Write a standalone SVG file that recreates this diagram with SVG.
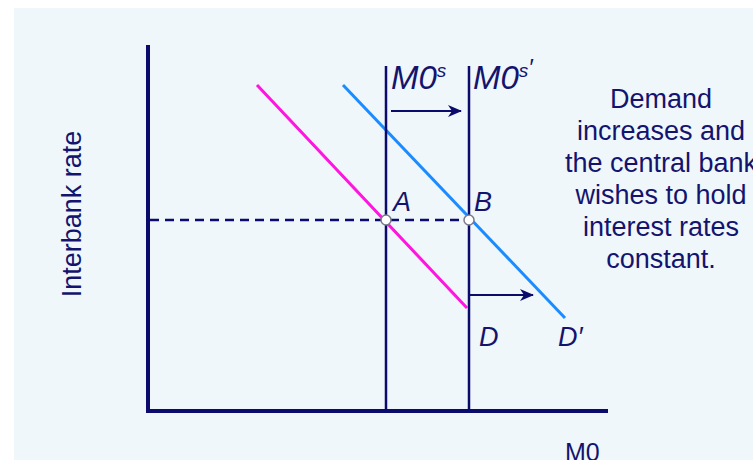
<svg xmlns="http://www.w3.org/2000/svg" width="753" height="460" viewBox="0 0 753 460">
<style>
.ax{stroke:#0b0b6b;stroke-width:4;fill:none}
.t{font-family:"Liberation Sans",Arial,sans-serif;fill:#14146e}
.it{font-style:italic;font-size:27px}
.big{font-style:italic;font-size:33px}
.body{font-size:27px;text-anchor:middle}
.pt{fill:#ffffff;stroke:#7a7a8a;stroke-width:1.5}
</style>
<defs>
<marker id="ah" viewBox="0 0 14 12" refX="13" refY="6" markerWidth="14" markerHeight="12" markerUnits="userSpaceOnUse" orient="auto">
<path d="M0,0 L14,6 L0,12 L4,6 Z" fill="#0b0b6b"/>
</marker>
</defs>
<rect x="0" y="0" width="753" height="460" fill="#ffffff"/>
<rect x="14" y="8" width="739" height="452" fill="#eff7fa"/>
<g id="connectors">
<line class="ax" x1="148" y1="45" x2="148" y2="413"/>
<line class="ax" x1="146" y1="411" x2="608" y2="411"/>
<line x1="150" y1="220" x2="469" y2="220" stroke="#0b0b6b" stroke-width="2.5" stroke-dasharray="9,6"/>
<line x1="257" y1="85" x2="467" y2="308" stroke="#ff14e0" stroke-width="3"/>
<line x1="343" y1="85" x2="565" y2="318" stroke="#1a8cff" stroke-width="3"/>
<line x1="386" y1="66" x2="386" y2="411" stroke="#0b0b6b" stroke-width="2.5"/>
<line x1="469" y1="66" x2="469" y2="411" stroke="#0b0b6b" stroke-width="2.5"/>
<line x1="391" y1="111" x2="461" y2="111" stroke="#0b0b6b" stroke-width="2" marker-end="url(#ah)"/>
<line x1="470" y1="295" x2="533" y2="295" stroke="#0b0b6b" stroke-width="2" marker-end="url(#ah)"/>
</g>
<g id="pointA"><circle class="pt" cx="386" cy="220" r="5"/><text class="t it" x="393" y="211">A</text></g>
<g id="pointB"><circle class="pt" cx="469" cy="220" r="5"/><text class="t it" x="474" y="211">B</text></g>
<g id="labelD"><text class="t it" x="479" y="346">D</text></g>
<g id="labelD2"><text class="t it" x="558" y="346">D′</text></g>
<g id="labelM0s"><text class="t big" x="391" y="89">M0<tspan font-size="19" dy="-12">s</tspan></text></g>
<g id="labelM0s2"><text class="t big" x="473" y="89">M0<tspan font-size="19" dy="-12">s</tspan><tspan font-size="24" dy="-1">′</tspan></text></g>
<g id="note">
<text class="t body" x="661" y="108">Demand</text>
<text class="t body" x="661" y="140">increases and</text>
<text class="t body" x="661" y="172">the central bank</text>
<text class="t body" x="661" y="204">wishes to hold</text>
<text class="t body" x="661" y="236">interest rates</text>
<text class="t body" x="661" y="268">constant.</text>
</g>
<g id="yLabel"><text class="t" font-size="27" text-anchor="middle" transform="translate(81,214) rotate(-90)">Interbank rate</text></g>
<g id="xLabel"><text class="t" font-size="25" x="565" y="461">M0</text></g>
</svg>
